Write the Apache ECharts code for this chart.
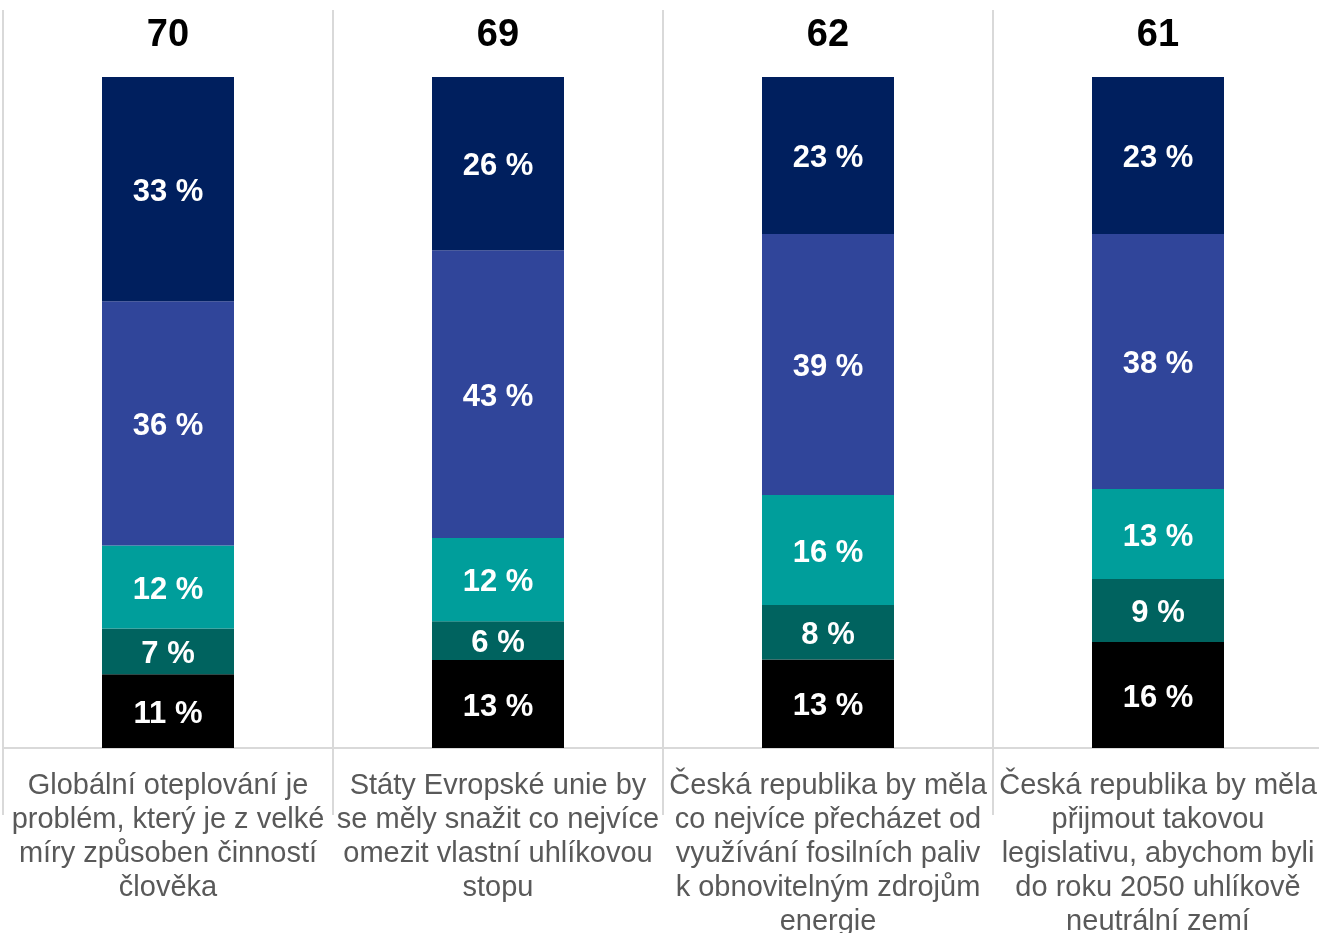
<!DOCTYPE html>
<html>
<head>
<meta charset="utf-8">
<script src="https://cdn.jsdelivr.net/npm/echarts@6/dist/echarts.min.js"></script>
<style>
  html, body { margin: 0; padding: 0; background: #fff; overflow: hidden; }
  #chart { width: 1319px; height: 933px; }
</style>
</head>
<body>
<div id="chart"></div>
<script>
// otázky (kategorie osy x)
const categories = [
  'Globální oteplování je\nproblém, který je z velké\nmíry způsoben činností\nčlověka',
  'Státy Evropské unie by\nse měly snažit co nejvíce\nomezit vlastní uhlíkovou\nstopu',
  'Česká republika by měla\nco nejvíce přecházet od\nvyužívání fosilních paliv\nk obnovitelným zdrojům\nenergie',
  'Česká republika by měla\npřijmout takovou\nlegislativu, abychom byli\ndo roku 2050 uhlíkově\nneutrální zemí'
];
// hodnoty nad sloupci
const topValues = ['70', '69', '62', '61'];

// podíly odpovědí (%), odspodu nahoru
const seriesBlack = [11.0, 13.1, 13.2, 15.8];
const seriesDarkTeal = [6.8, 5.8, 8.1, 9.4];
const seriesTeal = [12.4, 12.4, 16.4, 13.4];
const seriesBlue = [36.4, 42.9, 38.9, 38.0];
const seriesNavy = [33.4, 25.8, 23.4, 23.4];

const stacks = [
  { data: seriesBlack, color: '#000000' },
  { data: seriesDarkTeal, color: '#00635F' },
  { data: seriesTeal, color: '#009E9B' },
  { data: seriesBlue, color: '#30459A' },
  { data: seriesNavy, color: '#001F5E' }
];

const chart = echarts.init(document.getElementById('chart'));

const option = {
  animation: false,
  grid: { left: 3, right: -4, top: 10, bottom: 185, outerBoundsMode: 'none' },
  xAxis: [{
    type: 'category',
    data: categories,
    axisLine: { show: true, lineStyle: { color: '#d9d9d9', width: 2 } },
    axisTick: { show: true, length: 67, lineStyle: { color: '#d9d9d9', width: 2 } },
    splitLine: { show: true, lineStyle: { color: '#d9d9d9', width: 2 } },
    axisLabel: {
      interval: 0,
      margin: 21,
      color: '#595959',
      fontFamily: 'Liberation Sans, Arial, sans-serif',
      fontSize: 29,
      lineHeight: 34
    }
  }, {
    type: 'category',
    position: 'top',
    data: topValues,
    axisLine: { show: false },
    axisTick: { show: false },
    splitLine: { show: false },
    axisLabel: {
      inside: true,
      interval: 0,
      margin: 7,
      color: '#000',
      fontFamily: 'Liberation Sans, Arial, sans-serif',
      fontWeight: 'bold',
      fontSize: 38
    }
  }],
  yAxis: {
    type: 'value',
    min: 0,
    max: 110,
    show: false,
    splitLine: { show: false }
  },
  series: stacks.map(s => ({
    type: 'bar',
    stack: 'total',
    barWidth: 132,
    data: s.data,
    itemStyle: { color: s.color },
    label: {
      show: true,
      position: 'inside',
      offset: [0, 3],
      color: '#fff',
      fontFamily: 'Liberation Sans, Arial, sans-serif',
      fontWeight: 'bold',
      fontSize: 31,
      formatter: p => Math.round(p.value) + ' %'
    }
  }))
};

chart.setOption(option);
</script>
</body>
</html>
